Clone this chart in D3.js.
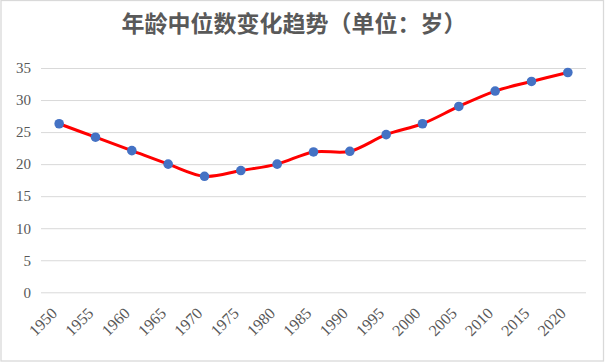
<!DOCTYPE html>
<html>
<head>
<meta charset="utf-8">
<script src="https://cdn.jsdelivr.net/npm/d3@7"></script>
<style>
  body { margin: 0; background: #fff; }
  svg { display: block; }
</style>
</head>
<body>
<script>
var WIDTH = 605, HEIGHT = 362;
var MARGIN = {top: 68, right: 19, bottom: 70, left: 41};
var INNER_WIDTH = WIDTH - MARGIN.left - MARGIN.right;
var INNER_HEIGHT = 292.3 - MARGIN.top;

var TITLE = "年龄中位数变化趋势（单位：岁）";
var years = ["1950","1955","1960","1965","1970","1975","1980","1985","1990","1995","2000","2005","2010","2015","2020"];
var medianAge = [26.3, 24.2, 22.1, 20.0, 18.1, 19.0, 20.0, 21.9, 22.0, 24.6, 26.3, 29.0, 31.4, 32.9, 34.3];
var yTicks = [0, 5, 10, 15, 20, 25, 30, 35];

var _svg = d3.select("body").append("svg")
    .attr("width", WIDTH)
    .attr("height", HEIGHT);

_svg.append("rect")
    .attr("x", 1).attr("y", 0.5)
    .attr("width", 602.5).attr("height", 360.5)
    .attr("fill", "#fff")
    .attr("stroke", "#d9d9d9")
    .attr("stroke-width", 1.3);

_svg.append("text")
    .attr("x", 294).attr("y", 32)
    .attr("text-anchor", "middle")
    .attr("font-family", "'Noto Sans CJK SC', sans-serif")
    .attr("font-weight", "bold")
    .attr("font-size", 23)
    .attr("fill", "#595959")
    .text(TITLE);

var _xScale = d3.scaleBand().domain(years).range([0, INNER_WIDTH]);
var _yScale = d3.scaleLinear().domain([0, 35]).range([INNER_HEIGHT, 0]);

var g = _svg.append("g")
    .attr("transform", "translate(" + MARGIN.left + "," + MARGIN.top + ")");

// gridlines + y labels
var yAxis = g.append("g")
    .call(d3.axisLeft(_yScale).tickValues(yTicks).tickSize(-INNER_WIDTH).tickPadding(10));
yAxis.select(".domain").remove();
yAxis.selectAll(".tick line").attr("stroke", "#d9d9d9").attr("stroke-width", 1);
yAxis.selectAll(".tick text")
    .attr("font-family", "'Liberation Serif', serif")
    .attr("font-size", 15)
    .attr("fill", "#595959");

// x labels
var xAxis = g.append("g")
    .attr("transform", "translate(0," + INNER_HEIGHT + ")")
    .call(d3.axisBottom(_xScale).tickSize(0).tickPadding(0));
xAxis.select(".domain").remove();
xAxis.selectAll(".tick text")
    .attr("font-family", "'Liberation Serif', serif")
    .attr("font-size", 16)
    .attr("fill", "#595959")
    .attr("text-anchor", "end")
    .attr("dy", "0.35em")
    .attr("transform", "translate(-5,18) rotate(-45)");

var cx = function(d, i){ return _xScale(years[i]) + _xScale.bandwidth() / 2; };

var line = d3.line()
    .x(function(d, i){ return cx(d, i); })
    .y(function(d){ return _yScale(d); })
    .curve(d3.curveCatmullRom.alpha(0));

g.append("path")
    .datum(medianAge)
    .attr("d", line)
    .attr("fill", "none")
    .attr("stroke", "#ff0000")
    .attr("stroke-width", 3)
    .attr("stroke-linejoin", "round");

g.selectAll(".pt").data(medianAge)
    .enter()
    .append("circle")
    .attr("cx", function(d, i){ return cx(d, i); })
    .attr("cy", function(d){ return _yScale(d); })
    .attr("r", 4.8)
    .attr("fill", "#4472c4");
</script>
</body>
</html>
